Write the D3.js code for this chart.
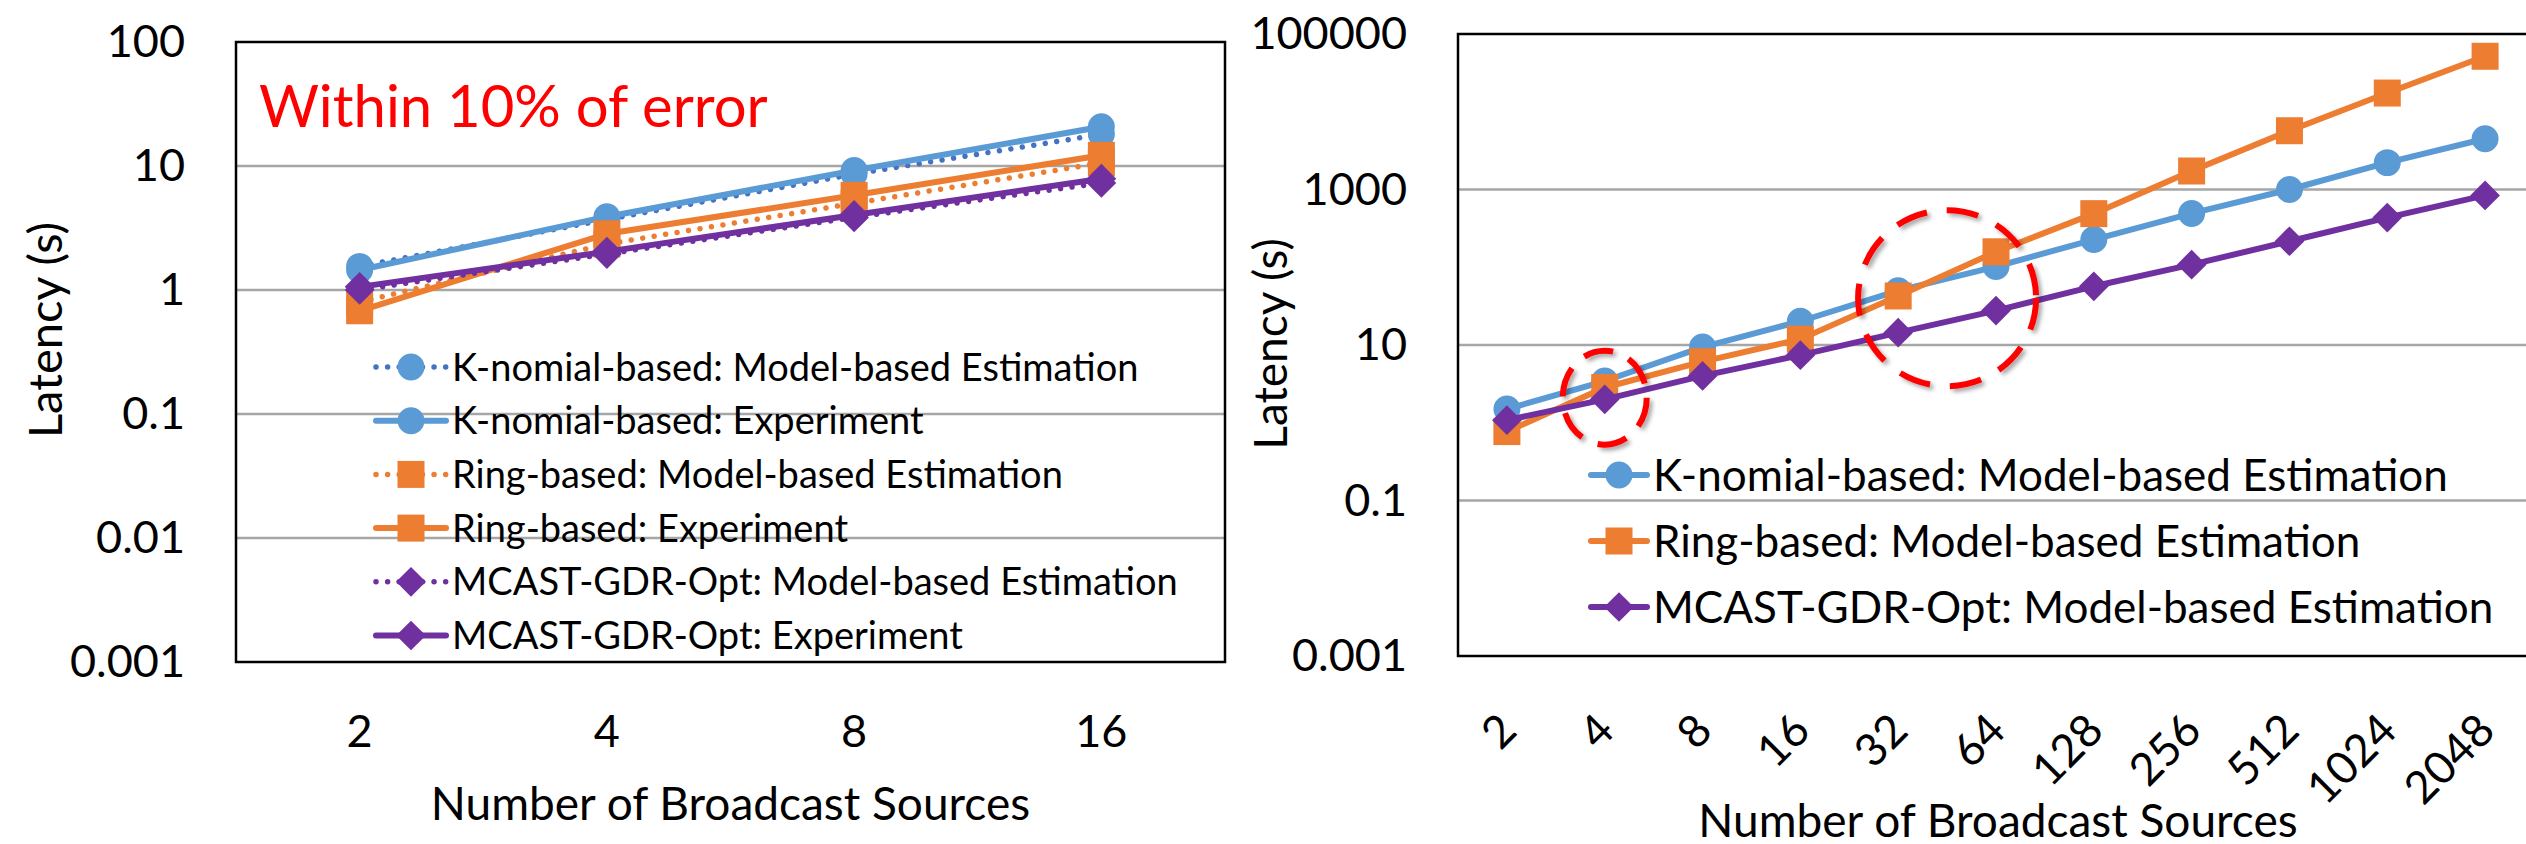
<!DOCTYPE html>
<html>
<head>
<meta charset="utf-8">
<script src="https://cdn.jsdelivr.net/npm/d3@7"></script>
<style>
  body { margin: 0; background: #fff; }
  text { font-family: Lato, "Open Sans", sans-serif; fill: #000; }
</style>
</head>
<body>
<div class="chart"></div>
<script>
// left chart data
var leftCats = ["2", "4", "8", "16"];
var knomModelL = [1.55, 3.7, 8.6, 18];
var knomExpL = [1.45, 3.9, 9.2, 20.7];
var ringModelL = [0.8, 2.35, 5.0, 10.6];
var ringExpL = [0.68, 2.84, 5.8, 12.2];
var mcastModelL = [1.0, 1.95, 3.85, 7.3];
var mcastExpL = [1.06, 2.04, 4.03, 7.9];
var leftTicks = [0.001, 0.01, 0.1, 1, 10, 100];

// right chart data
var rightCats = ["2", "4", "8", "16", "32", "64", "128", "256", "512", "1024", "2048"];
var knomModelR = [1.5, 3.44, 9.4, 20.2, 50, 102, 227, 492, 1000, 2215, 4500];
var ringModelR = [0.77, 2.84, 6.1, 11.9, 42.7, 158, 489, 1730, 5700, 17400, 51700];
var mcastModelR = [1.08, 2.0, 4.0, 7.4, 14.4, 27.7, 56.9, 108, 216, 435, 840];
var rightTicks = [0.001, 0.1, 10, 1000, 100000];

var blue = "#5B9BD5", blueDot = "#4472C4", orange = "#ED7D31", purple = "#7030A0";

var svg = d3.select(".chart").append("svg")
    .attr("width", 2526)
    .attr("height", 844);
svg.append("rect").attr("width", 2526).attr("height", 844).attr("fill", "#fff");

var defs = svg.append("defs");
defs.append("filter").attr("id", "shadow").attr("x", "-20%").attr("y", "-20%").attr("width", "140%").attr("height", "140%")
    .append("feDropShadow").attr("dx", 3).attr("dy", 3).attr("stdDeviation", 2)
    .attr("flood-color", "#000").attr("flood-opacity", 0.35);

function marker(g, shape, color, x, y) {
    var sym = shape == "circle" ? d3.symbol().type(d3.symbolCircle).size(570)
        : shape == "square" ? d3.symbol().type(d3.symbolSquare).size(729)
        : d3.symbol().type(d3.symbolSquare).size(441);
    g.append("path").attr("d", sym())
        .attr("fill", color)
        .attr("transform", "translate(" + x + "," + y + ")" + (shape == "diamond" ? " rotate(45)" : ""));
}

function drawSeries(g, x, y, cats, vals, color, lineColor, shape, dotted) {
    var line = d3.line().x(function(d, i) { return x(cats[i]); }).y(function(d) { return y(d); });
    var p = g.append("path").datum(vals).attr("d", line)
        .attr("fill", "none").attr("stroke", lineColor).attr("stroke-width", dotted ? 5.5 : 6)
        .attr("stroke-linejoin", "round");
    if (dotted) p.attr("stroke-dasharray", "0.01 11.6").attr("stroke-linecap", "round");
    vals.forEach(function(v, i) { marker(g, shape, color, x(cats[i]), y(v)); });
}

function frame(g, x, y, ticks, x0, x1, y0, y1) {
    g.selectAll(".grid").data(ticks.slice(1, -1)).enter().append("line")
        .attr("x1", x0).attr("x2", x1)
        .attr("y1", function(d) { return y(d); }).attr("y2", function(d) { return y(d); })
        .attr("stroke", "#A6A6A6").attr("stroke-width", 2.5);
    g.append("rect").attr("x", x0).attr("y", y0).attr("width", x1 - x0).attr("height", y1 - y0)
        .attr("fill", "none").attr("stroke", "#000").attr("stroke-width", 2.5);
    g.selectAll(".ytick").data(ticks).enter().append("text")
        .attr("x", x0 - 51).attr("y", function(d) { return y(d); }).attr("dy", "0.34em")
        .attr("text-anchor", "end").style("font-size", "45px")
        .text(function(d) { return String(d); });
}

function legendRow(g, x, y, shape, color, lineColor, dotted, label, fs, len) {
    var l = g.append("line").attr("x1", x).attr("x2", x + len).attr("y1", y).attr("y2", y)
        .attr("stroke", lineColor).attr("stroke-width", dotted ? 5.5 : 6);
    if (dotted) l.attr("stroke-dasharray", "0.01 11.6").attr("stroke-linecap", "round");
    else l.attr("stroke-linecap", "round");
    marker(g, shape, color, x + len / 2, y);
    g.append("text").attr("x", x + len + 6).attr("y", y).attr("dy", "0.36em")
        .style("font-size", fs + "px").text(label);
}

// ---------- left chart ----------
var L = { x0: 236, x1: 1225, y0: 42, y1: 662 };
var xL = d3.scalePoint().domain(leftCats).range([L.x0, L.x1]).padding(0.5);
var yL = d3.scaleLog().domain([0.001, 100]).range([L.y1, L.y0]);
var gL = svg.append("g");
frame(gL, xL, yL, leftTicks, L.x0, L.x1, L.y0, L.y1);

gL.append("text").attr("x", 259).attr("y", 127).style("font-size", "58px").style("fill", "#FF0000")
    .text("Within 10% of error");

drawSeries(gL, xL, yL, leftCats, knomModelL, blue, blueDot, "circle", true);
drawSeries(gL, xL, yL, leftCats, knomExpL, blue, blue, "circle", false);
drawSeries(gL, xL, yL, leftCats, ringModelL, orange, orange, "square", true);
drawSeries(gL, xL, yL, leftCats, ringExpL, orange, orange, "square", false);
drawSeries(gL, xL, yL, leftCats, mcastModelL, purple, purple, "diamond", true);
drawSeries(gL, xL, yL, leftCats, mcastExpL, purple, purple, "diamond", false);

var legL = [
    ["circle", blue, blueDot, true, "K-nomial-based: Model-based Estimation"],
    ["circle", blue, blue, false, "K-nomial-based: Experiment"],
    ["square", orange, orange, true, "Ring-based: Model-based Estimation"],
    ["square", orange, orange, false, "Ring-based: Experiment"],
    ["diamond", purple, purple, true, "MCAST-GDR-Opt: Model-based Estimation"],
    ["diamond", purple, purple, false, "MCAST-GDR-Opt: Experiment"]
];
legL.forEach(function(r, i) {
    legendRow(gL, 376, 367 + i * 53.7, r[0], r[1], r[2], r[3], r[4], 38, 70);
});

gL.selectAll(".xtick").data(leftCats).enter().append("text")
    .attr("x", function(d) { return xL(d); }).attr("y", 747)
    .attr("text-anchor", "middle").style("font-size", "45px")
    .text(function(d) { return d; });

gL.append("text").attr("x", (L.x0 + L.x1) / 2).attr("y", 820).attr("text-anchor", "middle")
    .style("font-size", "46px").text("Number of Broadcast Sources");
gL.append("text").attr("transform", "translate(62,330) rotate(-90)").attr("text-anchor", "middle")
    .style("font-size", "47px").text("Latency (s)");

// ---------- right chart ----------
var R = { x0: 1458, x1: 2534, y0: 34, y1: 656 };
var xR = d3.scalePoint().domain(rightCats).range([R.x0, R.x1]).padding(0.5);
var yR = d3.scaleLog().domain([0.001, 100000]).range([R.y1, R.y0]);
var gR = svg.append("g");
frame(gR, xR, yR, rightTicks, R.x0, R.x1, R.y0, R.y1);

drawSeries(gR, xR, yR, rightCats, knomModelR, blue, blue, "circle", false);
drawSeries(gR, xR, yR, rightCats, ringModelR, orange, orange, "square", false);
drawSeries(gR, xR, yR, rightCats, mcastModelR, purple, purple, "diamond", false);

// dashed call-out ellipses
gR.append("ellipse").attr("cx", xR("4")).attr("cy", yR(2.1)).attr("rx", 42).attr("ry", 47)
    .attr("fill", "none").attr("stroke", "#FF0000").attr("stroke-width", 6)
    .attr("stroke-dasharray", "30 17").attr("filter", "url(#shadow)");
gR.append("ellipse").attr("cx", (xR("32") + xR("64")) / 2).attr("cy", yR(40)).attr("rx", 89).attr("ry", 88)
    .attr("fill", "none").attr("stroke", "#FF0000").attr("stroke-width", 6)
    .attr("stroke-dasharray", "32 20").attr("filter", "url(#shadow)");

var legR = [
    ["circle", blue, "K-nomial-based: Model-based Estimation"],
    ["square", orange, "Ring-based: Model-based Estimation"],
    ["diamond", purple, "MCAST-GDR-Opt: Model-based Estimation"]
];
legR.forEach(function(r, i) {
    legendRow(gR, 1591, 475 + i * 66, r[0], r[1], r[1], false, r[2], 44, 56);
});

gR.selectAll(".xtick").data(rightCats).enter().append("text")
    .attr("transform", function(d) { return "translate(" + (xR(d) + 12) + ",733) rotate(-45)"; })
    .attr("text-anchor", "end").style("font-size", "45px")
    .text(function(d) { return d; });

gR.append("text").attr("x", 1998).attr("y", 837).attr("text-anchor", "middle")
    .style("font-size", "46px").text("Number of Broadcast Sources");
gR.append("text").attr("transform", "translate(1287,344) rotate(-90)").attr("text-anchor", "middle")
    .style("font-size", "46px").text("Latency (s)");
</script>
</body>
</html>
